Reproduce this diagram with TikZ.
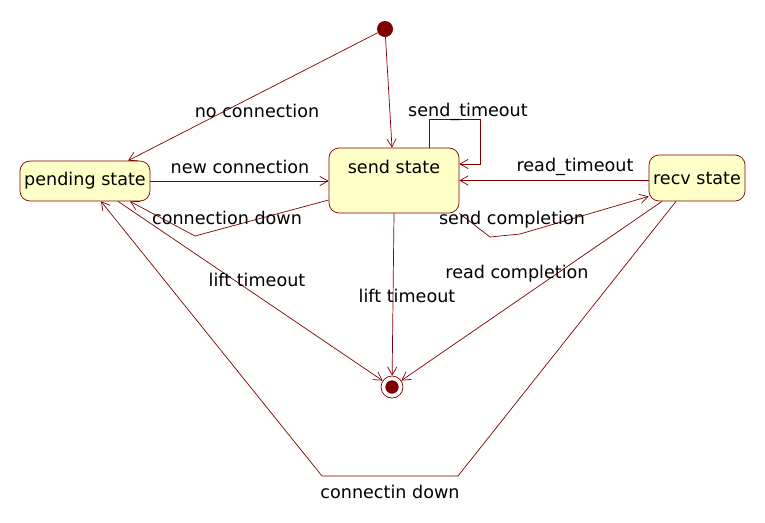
\documentclass[tikz,border=0pt]{standalone}
\usepackage{fontspec}
\setmainfont{DejaVu Sans}
\usetikzlibrary{arrows.meta, positioning, calc}
\definecolor{umlred}{RGB}{128,0,0}
\definecolor{umlfill}{RGB}{255,255,200}

\begin{document}
\begin{tikzpicture}[
    x=0.03cm, y=-0.03cm,
    state/.style={
        rectangle, draw=umlred, fill=umlfill, line width=0.6pt,
        rounded corners=0.3cm, inner sep=2pt,
        font=\fontsize{15}{17}\selectfont
    },
    initst/.style={circle, fill=umlred, minimum size=0.48cm, inner sep=0pt},
    finalst/.style={
        circle, draw=umlred, fill=white, line width=0.6pt,
        minimum size=0.66cm, inner sep=0pt,
        path picture={\fill[umlred] (path picture bounding box.center) circle (0.2cm);}
    },
    tr/.style={draw=umlred, line width=0.6pt, -{Straight Barb[length=7pt, width=8pt]}},
    lbl/.style={font=\fontsize{15}{17}\selectfont, inner sep=1pt}
]
\useasboundingbox (0,0) rectangle (765,522);

% states
\node[initst] (init) at (385,29) {};
\node[state, minimum width=3.9cm, minimum height=1.2cm] (pending) at (85,181) {pending state};
\node[state, minimum width=3.9cm, minimum height=1.95cm, text depth=0.8cm] (send) at (394,180.5) {send state};
\node[state, minimum width=2.88cm, minimum height=1.38cm] (recv) at (697,178) {recv state};
\node[finalst] (final) at (392,387) {};

% bend points
\coordinate (cdown) at (195,236);
\coordinate (loop) at (480,119);
\coordinate (sc1) at (490,237);
\coordinate (sc2) at (520,234);
\coordinate (cin1) at (322,476);
\coordinate (cin2) at (458,476);

% transitions
\draw[tr] (init) -- ([xshift=1.29cm]pending.north);
\draw[tr] (init) -- ([xshift=-0.06cm]send.north);
\draw[tr] (pending.east) -- (pending.east -| send.west);
\draw[tr] ([yshift=-0.585cm]send.west) -- (cdown) -- ([xshift=1.35cm]pending.south);
\draw[tr] ([xshift=1.05cm]send.north) |- (loop) |- ([yshift=0.495cm]send.east);
\draw[tr] (recv.west |- send.east) -- (send.east);
\draw[tr] (send.south east) -- (sc1) -- (sc2) -- ([yshift=0.15cm]recv.south west);
\draw[tr] ([xshift=-1.05cm]recv.south) -- (final);
\draw[tr] (send.south) -- (final);
\draw[tr] ([xshift=0.99cm]pending.south) -- (final);
\draw[tr] ([xshift=-0.63cm]recv.south) -- (cin2) -- (cin1) -- ([xshift=0.48cm]pending.south);

% labels
\node[lbl] (lnocon)   at (257,111) {no connection};
\node[lbl] (lnewcon)  at (240,167) {new connection};
\node[lbl] (lcondown) at (227,218) {connection down};
\node[lbl] (lsendto)  at (468,112) {send\_timeout};
\node[lbl] (lreadto)  at (575,167) {read\_timeout};
\node[lbl] (lsendcp)  at (512,220) {send completion};
\node[lbl] (lreadcp)  at (517,274) {read completion};
\node[lbl] (llift)    at (407,296) {lift timeout};
\node[lbl] (lliftp)   at (257,280) {lift timeout};
\node[lbl] (lcindown) at (390,492) {connectin down};

\end{tikzpicture}
\end{document}
